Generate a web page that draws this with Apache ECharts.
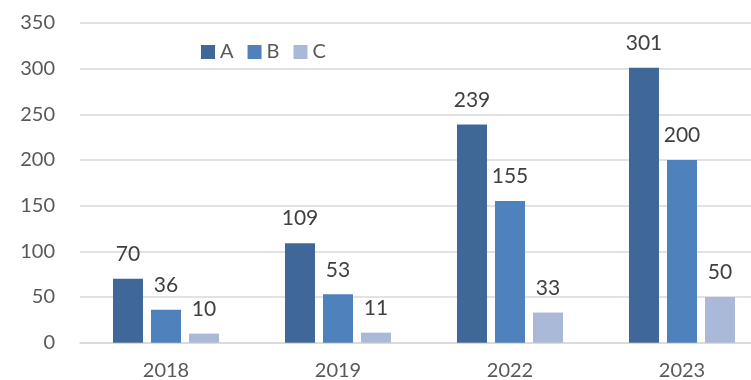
<!DOCTYPE html>
<html>
<head>
<meta charset="utf-8">
<style>
  html, body { margin: 0; padding: 0; background: #ffffff; }
  #chart { width: 751px; height: 380px; }
</style>
<script src="https://cdn.jsdelivr.net/npm/echarts@6/dist/echarts.min.js"></script>
</head>
<body>
<div id="chart"></div>
<script>
// Yearly counts per group
const years = ['2018', '2019', '2022', '2023'];
const seriesNames = ['A', 'B', 'C'];
const valuesA = [70, 109, 239, 301];
const valuesB = [36, 53, 155, 200];
const valuesC = [10, 11, 33, 50];
const yTicks = [0, 50, 100, 150, 200, 250, 300, 350];

const colors = ['#3F6898', '#4F81BD', '#AAB9D8'];
const fontFamily = 'Lato, "Open Sans", sans-serif';

const chart = echarts.init(document.getElementById('chart'), null, { renderer: 'canvas' });

const makeSeries = (name, data, color) => ({
  name: name,
  type: 'bar',
  data: data,
  barWidth: 30,
  barGap: '26.7%',
  itemStyle: { color: color },
  label: {
    show: true,
    position: 'top',
    distance: 14,
    color: '#404040',
    fontSize: 21,
    fontFamily: fontFamily
  }
});

chart.setOption({
  animation: false,
  // the last category band runs slightly past the right edge of the canvas
  grid: {
    left: 80, width: 688, top: 23, bottom: 37.3,
    containLabel: false,
    outerBoundsMode: 'none'
  },
  legend: {
    data: seriesNames,
    left: 196,
    top: 37,
    itemWidth: 14,
    itemHeight: 14,
    itemGap: 14,
    icon: 'rect',
    textStyle: { color: '#595959', fontSize: 20, fontFamily: fontFamily }
  },
  xAxis: {
    type: 'category',
    data: years,
    axisLine: { show: true, lineStyle: { color: '#D9D9D9', width: 1.5 } },
    axisTick: { show: false },
    axisLabel: { color: '#595959', fontSize: 20, fontFamily: fontFamily, margin: 18 }
  },
  yAxis: {
    type: 'value',
    min: yTicks[0],
    max: yTicks[yTicks.length - 1],
    interval: 50,
    axisLine: { show: false },
    axisTick: { show: false },
    splitLine: { lineStyle: { color: '#D9D9D9', width: 1.5 } },
    axisLabel: { color: '#595959', fontSize: 20, fontFamily: fontFamily, margin: 25 }
  },
  series: [
    makeSeries(seriesNames[0], valuesA, colors[0]),
    makeSeries(seriesNames[1], valuesB, colors[1]),
    makeSeries(seriesNames[2], valuesC, colors[2])
  ]
});
</script>
</body>
</html>
